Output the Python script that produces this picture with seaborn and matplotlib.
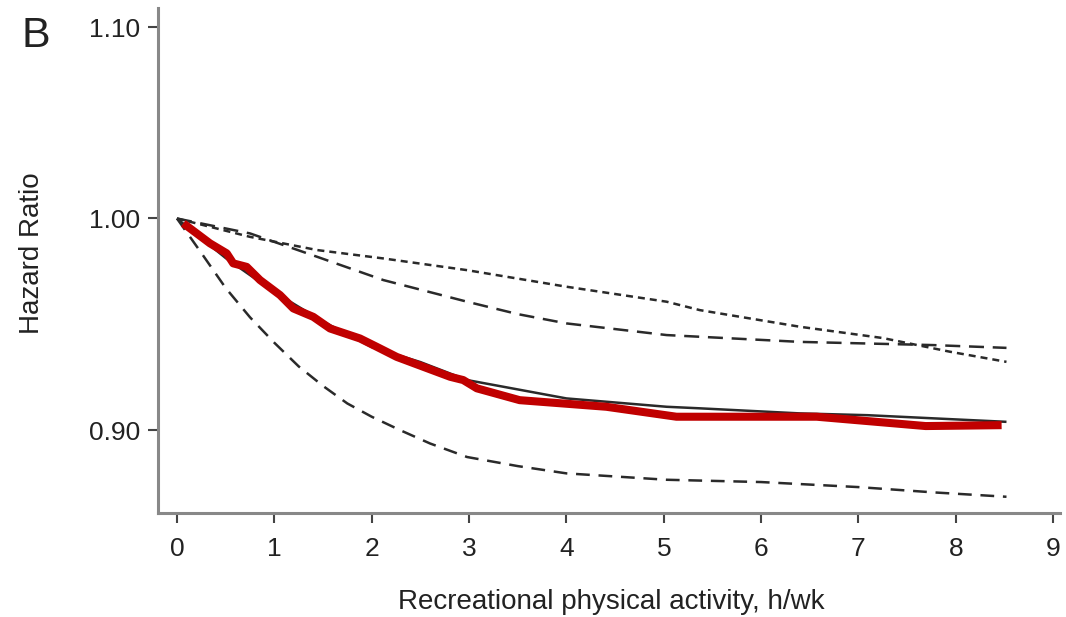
import numpy as np
import pandas as pd
import matplotlib
matplotlib.use("Agg")
import matplotlib.pyplot as plt
from matplotlib.ticker import FixedLocator, FixedFormatter, NullLocator
import seaborn as sns

# Hazard ratio curves (log scale y)
est_x = [0, 0.5, 1.0, 1.5, 2.0, 2.5, 2.98, 4.0, 5.03, 5.37, 6.4, 7.09, 8.52]
est_hr = [1.0, 0.9805, 0.9640, 0.9500, 0.9380, 0.9310, 0.9227, 0.9143, 0.9105, 0.9098, 0.9075, 0.9067, 0.9037]

red_x = [0.065, 0.339, 0.511, 0.578, 0.716, 0.853, 1.058, 1.195, 1.400, 1.572, 1.880, 2.052,
         2.257, 2.805, 2.94, 3.08, 3.52, 4.41, 5.13, 5.37, 6.57, 7.69, 8.47]
red_hr = [0.9976, 0.9877, 0.9828, 0.9779, 0.9762, 0.9698, 0.9626, 0.9562, 0.9522, 0.9467, 0.9420, 0.9381,
          0.9334, 0.9242, 0.9227, 0.9189, 0.9135, 0.9105, 0.9060, 0.9060, 0.9060, 0.9018, 0.9022]

low_x = [0, 0.25, 0.5, 0.75, 1.0, 1.25, 1.5, 1.75, 2.0, 2.29, 2.6, 2.98, 3.5, 4.0, 5.03, 6.0, 7.0, 7.77, 8.52]
low_hr = [1.0, 0.983, 0.966, 0.952, 0.940, 0.929, 0.920, 0.912, 0.906, 0.900, 0.894, 0.888, 0.884,
          0.8808, 0.8780, 0.8770, 0.8748, 0.8725, 0.8706]

up_x = [0, 0.75, 1.44, 2.12, 2.98, 3.5, 4.0, 5.03, 6.4, 7.77, 8.52]
up_hr = [1.0, 0.9926, 0.9811, 0.9698, 0.9594, 0.9535, 0.9491, 0.9436, 0.9404, 0.9389, 0.9376]

dot_x = [0, 0.75, 1.44, 2.12, 2.98, 4.0, 5.03, 5.37, 6.4, 7.25, 7.94, 8.52]
dot_hr = [1.0, 0.9909, 0.9844, 0.9803, 0.9746, 0.9666, 0.9594, 0.9554, 0.9475, 0.9422, 0.9358, 0.9311]

x_ticks = [0, 1, 2, 3, 4, 5, 6, 7, 8, 9]
y_ticks = [0.90, 1.00, 1.10]
y_tick_labels = ["0.90", "1.00", "1.10"]

sns.set_style("white")
plt.rcParams['font.family'] = ['Liberation Sans', 'DejaVu Sans']

fig = plt.figure(figsize=(10.66, 6.17), dpi=100)
ax = fig.add_axes([0.1482, 0.1686, 0.8462, 0.8184])

line_col = "#2a2a2a"
sns.lineplot(x=low_x, y=low_hr, ax=ax, color=line_col, lw=1.8)
sns.lineplot(x=up_x, y=up_hr, ax=ax, color=line_col, lw=1.8)
sns.lineplot(x=dot_x, y=dot_hr, ax=ax, color=line_col, lw=1.8)
sns.lineplot(x=est_x, y=est_hr, ax=ax, color=line_col, lw=1.8)
sns.lineplot(x=red_x, y=red_hr, ax=ax, color="#c00000", lw=5.8)

lines = ax.get_lines()
lines[0].set_dashes([5.5, 3.5])
lines[1].set_dashes([6.0, 3.5])
lines[2].set_dashes([2.8, 2.0])
for ln in lines:
    ln.set_solid_capstyle("butt")
    ln.set_dash_capstyle("butt")
    ln.set_solid_joinstyle("round")
    ln.set_dash_joinstyle("round")

ax.set_yscale("log")
ax.set_xlim(-0.195, 9.07)
ax.set_ylim(0.8636, 1.1105)
ax.yaxis.set_major_locator(FixedLocator(y_ticks))
ax.yaxis.set_major_formatter(FixedFormatter(y_tick_labels))
ax.yaxis.set_minor_locator(NullLocator())
ax.set_xticks(x_ticks)

sns.despine(ax=ax)
for s in ["left", "bottom"]:
    ax.spines[s].set_color("#888888")
    ax.spines[s].set_linewidth(2.2)
ax.tick_params(axis="both", which="major", direction="out", length=7, width=1.5,
               color="#444444", labelsize=19, labelcolor="#222222", pad=6,
               left=True, bottom=True)
ax.tick_params(axis="x", pad=10)

ax.set_xlabel("Recreational physical activity, h/wk", fontsize=20, color="#222222")
ax.set_ylabel("Hazard Ratio", fontsize=20, color="#222222")
ax.xaxis.set_label_coords(0.503, -0.150)
ax.yaxis.set_label_coords(-0.125, 0.515)

fig.text(0.020, 1 - 47 / 617, "B", fontsize=31, color="#222222", va="baseline")

fig.savefig("out.png", dpi=100)
